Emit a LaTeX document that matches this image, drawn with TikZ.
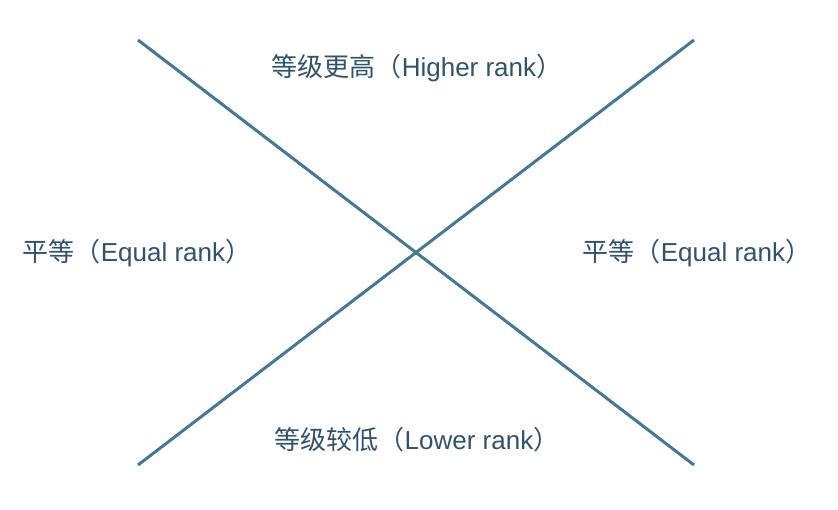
\documentclass[tikz,border=0pt]{standalone}
\usepackage{fontspec}
\setmainfont{Liberation Sans}
\newfontfamily\cjk{Noto Sans CJK SC}
\definecolor{rankline}{HTML}{44789A}
\definecolor{ranktext}{HTML}{2E536E}

\begin{document}
\begin{tikzpicture}[x=1pt,y=-1pt,
	label/.style={text=ranktext,font=\fontsize{26}{30}\selectfont,inner sep=0pt}]
		\useasboundingbox (0,0) rectangle (838,509);
		\coordinate (tl) at (138,40);
		\coordinate (tr) at (694,40);
		\coordinate (bl) at (138,465);
		\coordinate (br) at (694,465);
		\draw[rankline,line width=3pt] (tl) -- (br);
		\draw[rankline,line width=3pt] (tr) -- (bl);
		\node[label] (higher) at (417,68) {{\cjk 等级更高（}Higher rank{\cjk ）}};
		\node[label] (equalleft) at (137,253) {{\cjk 平等（}Equal rank{\cjk ）}};
		\node[label] (equalright) at (697,253) {{\cjk 平等（}Equal rank{\cjk ）}};
		\node[label] (lower) at (417,440) {{\cjk 等级较低（}Lower rank{\cjk ）}};
	\end{tikzpicture}
\end{document}
